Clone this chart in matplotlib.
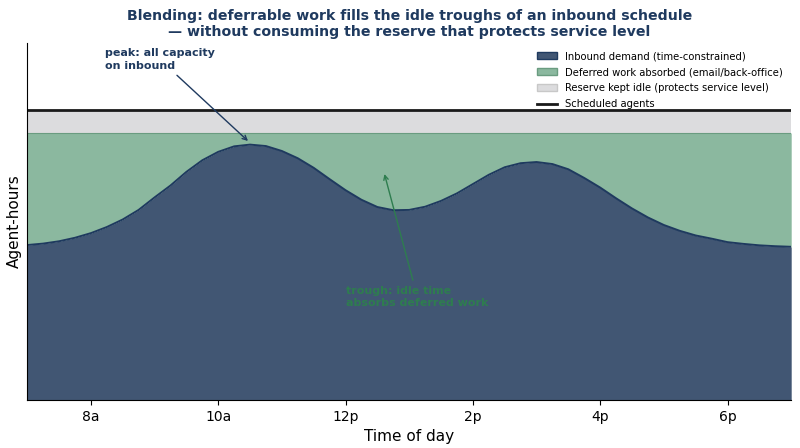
import numpy as np
import matplotlib.pyplot as plt
from matplotlib.patches import Patch
from matplotlib.lines import Line2D

# hours of day, quarter-hour steps
hours = [7.0, 7.25, 7.5, 7.75, 8.0, 8.25, 8.5, 8.75, 9.0, 9.25, 9.5, 9.75,
         10.0, 10.25, 10.5, 10.75, 11.0, 11.25, 11.5, 11.75, 12.0, 12.25, 12.5, 12.75,
         13.0, 13.25, 13.5, 13.75, 14.0, 14.25, 14.5, 14.75, 15.0, 15.25, 15.5, 15.75,
         16.0, 16.25, 16.5, 16.75, 17.0, 17.25, 17.5, 17.75, 18.0, 18.25, 18.5, 18.75, 19.0]
demand = [53.4, 53.9, 54.7, 55.9, 57.5, 59.6, 62.2, 65.5, 69.8, 73.9, 78.6, 82.6,
          85.5, 87.4, 88.0, 87.5, 85.8, 83.3, 80.0, 76.1, 72.3, 69.0, 66.5, 65.4,
          65.5, 66.6, 68.6, 71.2, 74.4, 77.6, 80.2, 81.6, 82.0, 81.3, 79.5, 76.5,
          73.2, 69.5, 66.0, 62.9, 60.3, 58.3, 56.7, 55.6, 54.4, 53.8, 53.3, 53.0, 52.8]
scheduled = 100
usable = 92   # scheduled minus idle reserve

tick_hours = [8, 10, 12, 14, 16, 18]
tick_labels = ['8a', '10a', '12p', '2p', '4p', '6p']

navy = '#1f3a5f'
blue_fill = '#415673'
green_fill = '#8bb89f'
grey_fill = '#dcdcde'

x = np.array(hours)
d = np.array(demand)

fig = plt.figure(figsize=(8, 4.48), dpi=100)
ax = fig.add_axes([0.034, 0.107, 0.955, 0.797])

ax.fill_between(x, 0, d, color=blue_fill, lw=0)
ax.fill_between(x, d, usable, color=green_fill, lw=0)
ax.fill_between(x, usable, scheduled, color=grey_fill, lw=0)
ax.plot(x, d, color=navy, lw=1.4, solid_joinstyle='round')
ax.plot(x, [usable] * len(x), color='#6a9c80', lw=0.8)
ax.plot(x, [scheduled] * len(x), color='#1a1a1a', lw=2)

ax.set_xlim(7, 19)
ax.set_ylim(0, 123)
ax.set_xticks(tick_hours)
ax.set_xticklabels(tick_labels, fontsize=10)
ax.set_yticks([])
ax.spines['top'].set_visible(False)
ax.spines['right'].set_visible(False)
ax.set_xlabel('Time of day', fontsize=11)
ax.set_ylabel('Agent-hours', fontsize=11)
ax.set_title('Blending: deferrable work fills the idle troughs of an inbound schedule\n'
             '— without consuming the reserve that protects service level',
             fontsize=10.2, fontweight='bold', color=navy, pad=5)

ax.annotate('peak: all capacity\non inbound', xy=(10.5, 88.6), xytext=(8.22, 121.2),
            ha='left', va='top', fontsize=8, fontweight='bold', color=navy,
            linespacing=1.3,
            arrowprops=dict(arrowstyle='->', color=navy, lw=1))
ax.annotate('trough: idle time\nabsorbs deferred work', xy=(12.6, 78.8), xytext=(12.01, 39.4),
            ha='left', va='top', fontsize=8, fontweight='bold', color='#2e7d4f',
            linespacing=1.3,
            arrowprops=dict(arrowstyle='->', color='#2e7d4f', lw=1))

handles = [Patch(facecolor=blue_fill, edgecolor=navy, label='Inbound demand (time-constrained)'),
           Patch(facecolor=green_fill, edgecolor='#6a9c80', label='Deferred work absorbed (email/back-office)'),
           Patch(facecolor=grey_fill, edgecolor='#c8c8c8', label='Reserve kept idle (protects service level)'),
           Line2D([0], [0], color='#1a1a1a', lw=2, label='Scheduled agents')]
ax.legend(handles=handles, loc='upper right', fontsize=7.2, frameon=False,
          handlelength=2.0, labelspacing=0.6, borderaxespad=0.4)

fig.savefig('out.png', dpi=100)
